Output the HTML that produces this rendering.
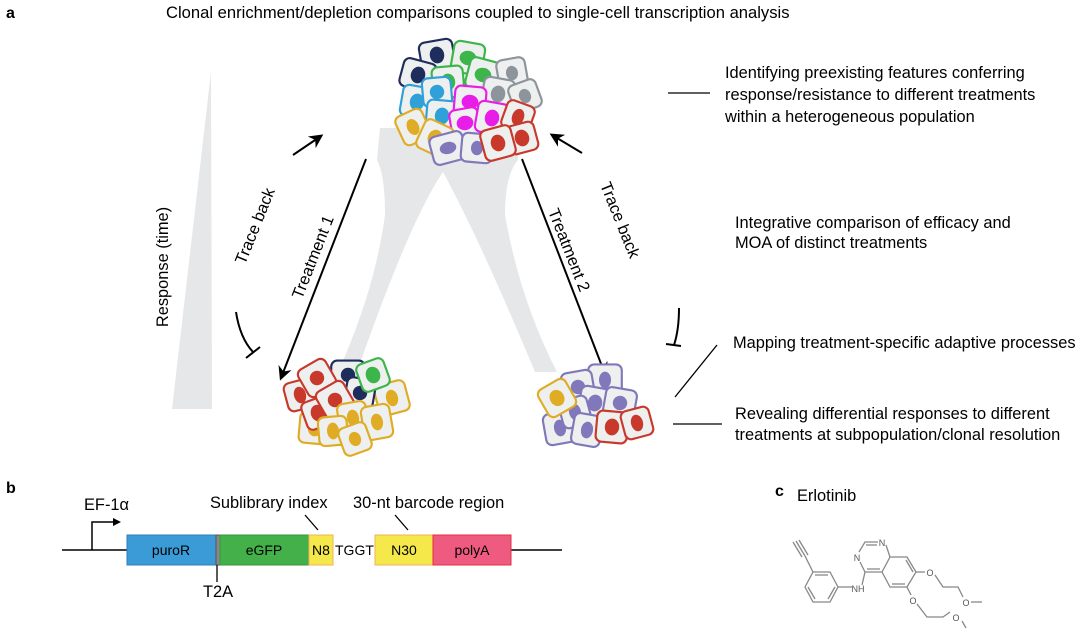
<!DOCTYPE html>
<html><head><meta charset="utf-8"><style>
html,body{margin:0;padding:0;background:#fff;}
svg{display:block;font-family:"Liberation Sans",Arial,sans-serif;}
</style></head><body>
<svg width="1080" height="636" viewBox="0 0 1080 636" xmlns="http://www.w3.org/2000/svg">
<defs>
<marker id="ah" viewBox="0 0 10 10" refX="8" refY="5" markerWidth="7" markerHeight="7" orient="auto-start-reverse"><path d="M0,0 L10,5 L0,10 L3,5 z" fill="#000"/></marker>
</defs>
<text x="6" y="18" font-size="16" font-weight="bold">a</text>
<text x="166" y="18" font-size="16.6">Clonal enrichment/depletion comparisons coupled to single-cell transcription analysis</text>

<polygon points="211,72 212,409 172,409" fill="#e6e7e8"/>
<text transform="translate(168,267) rotate(-90)" font-size="16.4" text-anchor="middle">Response (time)</text>

<path d="M380,128 L517,128 L518,160 Q505,175 505,215 Q520,300 557,372 L535,372 Q480,240 443,172 Q410,220 357,372 L338,372 Q375,290 385,215 Q385,175 377,160 Z" fill="#e6e7e8"/>

<line x1="366" y1="159" x2="281" y2="378" stroke="#000" stroke-width="2" marker-end="url(#ah)"/>
<line x1="522" y1="159" x2="605" y2="374" stroke="#000" stroke-width="2" marker-end="url(#ah)"/>
<text transform="translate(318,259) rotate(-68.5)" font-size="16.4" text-anchor="middle">Treatment 1</text>
<text transform="translate(564,252) rotate(68.5)" font-size="16.4" text-anchor="middle">Treatment 2</text>
<text transform="translate(260,228) rotate(-68)" font-size="16.4" text-anchor="middle">Trace back</text>
<text transform="translate(615,222) rotate(68)" font-size="16.4" text-anchor="middle">Trace back</text>
<line x1="293" y1="155" x2="321" y2="136" stroke="#000" stroke-width="2" marker-end="url(#ah)"/>
<line x1="582" y1="153" x2="552" y2="135" stroke="#000" stroke-width="2" marker-end="url(#ah)"/>
<path d="M236,312 Q240,338 253,352" fill="none" stroke="#000" stroke-width="2"/>
<line x1="246" y1="358" x2="260" y2="347" stroke="#000" stroke-width="2"/>
<path d="M679,308 Q679,330 674,345" fill="none" stroke="#000" stroke-width="2"/>
<line x1="666" y1="344" x2="681" y2="346" stroke="#000" stroke-width="2"/>

<line x1="668" y1="93" x2="710" y2="93" stroke="#000" stroke-width="1.3"/>
<text font-size="16.4"><tspan x="725" y="78">Identifying preexisting features conferring</tspan><tspan x="725" y="100">response/resistance to different treatments</tspan><tspan x="725" y="122">within a heterogeneous population</tspan></text>
<text font-size="16.4"><tspan x="735" y="228">Integrative comparison of efficacy and</tspan><tspan x="735" y="248">MOA of distinct treatments</tspan></text>
<text x="733" y="348" font-size="16.4">Mapping treatment-specific adaptive processes</text>
<line x1="675" y1="397" x2="717" y2="345" stroke="#000" stroke-width="1.3"/>
<line x1="673" y1="424" x2="722" y2="424" stroke="#000" stroke-width="1.3"/>
<text font-size="16.4"><tspan x="735" y="419">Revealing differential responses to different</tspan><tspan x="735" y="440">treatments at subpopulation/clonal resolution</tspan></text>

<g stroke-width="1.8" fill="#eef0ef">
<g transform="translate(437,55) rotate(-10) scale(1.2)"><rect x="-14" y="-12" width="28" height="24" rx="5" stroke="#1f2d5c"/><ellipse rx="6" ry="7" fill="#1f2d5c" stroke="none"/></g>
<g transform="translate(418,75) rotate(15) scale(1.2)"><rect x="-14" y="-12" width="28" height="24" rx="5" stroke="#1f2d5c"/><ellipse rx="6" ry="7" fill="#1f2d5c" stroke="none"/></g>
<g transform="translate(468,58) rotate(10) scale(1.2)"><rect x="-13" y="-13" width="26" height="26" rx="5" stroke="#3cb54a"/><ellipse rx="7" ry="6" fill="#3cb54a" stroke="none"/></g>
<g transform="translate(448,82) rotate(-5) scale(1.2)"><rect x="-13" y="-13" width="26" height="26" rx="5" stroke="#3cb54a"/><ellipse rx="6" ry="7" fill="#3cb54a" stroke="none"/></g>
<g transform="translate(483,75) rotate(15) scale(1.2)"><rect x="-13" y="-13" width="26" height="26" rx="5" stroke="#3cb54a"/><ellipse rx="7" ry="6" fill="#3cb54a" stroke="none"/></g>
<g transform="translate(512,73) rotate(-10) scale(1.2)"><rect x="-12" y="-12" width="24" height="24" rx="5" stroke="#8e949b"/><ellipse rx="5" ry="6" fill="#8e949b" stroke="none"/></g>
<g transform="translate(498,94) rotate(10) scale(1.2)"><rect x="-13" y="-13" width="26" height="26" rx="5" stroke="#8e949b"/><ellipse rx="6" ry="7" fill="#8e949b" stroke="none"/></g>
<g transform="translate(525,96) rotate(-20) scale(1.2)"><rect x="-12" y="-12" width="24" height="24" rx="5" stroke="#8e949b"/><ellipse rx="5" ry="6" fill="#8e949b" stroke="none"/></g>
<g transform="translate(417,102) rotate(10) scale(1.2)"><rect x="-13" y="-13" width="26" height="26" rx="5" stroke="#2fa0d8"/><ellipse rx="6" ry="7" fill="#2fa0d8" stroke="none"/></g>
<g transform="translate(437,92) rotate(-5) scale(1.2)"><rect x="-12" y="-12" width="24" height="24" rx="5" stroke="#2fa0d8"/><ellipse rx="6" ry="6" fill="#2fa0d8" stroke="none"/></g>
<g transform="translate(442,116) rotate(5) scale(1.2)"><rect x="-13" y="-13" width="26" height="26" rx="5" stroke="#2fa0d8"/><ellipse rx="6" ry="7" fill="#2fa0d8" stroke="none"/></g>
<g transform="translate(470,102) rotate(5) scale(1.2)"><rect x="-13" y="-13" width="26" height="26" rx="5" stroke="#e81ee8"/><ellipse rx="7" ry="6" fill="#e81ee8" stroke="none"/></g>
<g transform="translate(465,123) rotate(-10) scale(1.2)"><rect x="-12" y="-12" width="24" height="24" rx="5" stroke="#e81ee8"/><ellipse rx="7" ry="6" fill="#e81ee8" stroke="none"/></g>
<g transform="translate(492,118) rotate(10) scale(1.2)"><rect x="-13" y="-13" width="26" height="26" rx="5" stroke="#e81ee8"/><ellipse rx="6" ry="7" fill="#e81ee8" stroke="none"/></g>
<g transform="translate(413,127) rotate(-25) scale(1.2)"><rect x="-12" y="-13" width="24" height="26" rx="5" stroke="#e0ac25"/><ellipse rx="5" ry="7" fill="#e0ac25" stroke="none"/></g>
<g transform="translate(435,138) rotate(25) scale(1.2)"><rect x="-13" y="-13" width="26" height="26" rx="5" stroke="#e0ac25"/><ellipse rx="6" ry="7" fill="#e0ac25" stroke="none"/></g>
<g transform="translate(518,117) rotate(20) scale(1.2)"><rect x="-12" y="-12" width="24" height="24" rx="5" stroke="#c8392b"/><ellipse rx="5" ry="7" fill="#c8392b" stroke="none"/></g>
<g transform="translate(522,138) rotate(-15) scale(1.2)"><rect x="-12" y="-12" width="24" height="24" rx="5" stroke="#c8392b"/><ellipse rx="6" ry="7" fill="#c8392b" stroke="none"/></g>
<g transform="translate(448,148) rotate(-15) scale(1.2)"><rect x="-14" y="-12" width="28" height="24" rx="5" stroke="#8178bb"/><ellipse rx="7" ry="5" fill="#8178bb" stroke="none"/></g>
<g transform="translate(477,148) rotate(5) scale(1.2)"><rect x="-13" y="-12" width="26" height="24" rx="5" stroke="#8178bb"/><ellipse rx="5" ry="6" fill="#8178bb" stroke="none"/></g>
<g transform="translate(498,143) rotate(-15) scale(1.2)"><rect x="-13" y="-13" width="26" height="26" rx="5" stroke="#c8392b"/><ellipse rx="6" ry="7" fill="#c8392b" stroke="none"/></g>

<g transform="translate(315,428) rotate(5) scale(1.2)"><rect x="-13" y="-13" width="26" height="26" rx="5" stroke="#e0ac25"/><ellipse rx="6" ry="7" fill="#e0ac25" stroke="none"/></g>
<g transform="translate(392,398) rotate(-15) scale(1.2)"><rect x="-13" y="-13" width="26" height="26" rx="5" stroke="#e0ac25"/><ellipse rx="5" ry="7" fill="#e0ac25" stroke="none"/></g>
<g transform="translate(348,375) rotate(0) scale(1.2)"><rect x="-14" y="-12" width="28" height="24" rx="5" stroke="#1f2d5c"/><ellipse rx="6" ry="6" fill="#1f2d5c" stroke="none"/></g>
<g transform="translate(360,393) rotate(10) scale(1.2)"><rect x="-12" y="-12" width="24" height="24" rx="5" stroke="#1f2d5c"/><ellipse rx="6" ry="6" fill="#1f2d5c" stroke="none"/></g>
<g transform="translate(373,375) rotate(-20) scale(1.2)"><rect x="-12" y="-12" width="24" height="24" rx="5" stroke="#3cb54a"/><ellipse rx="6" ry="7" fill="#3cb54a" stroke="none"/></g>
<g transform="translate(300,395) rotate(-15) scale(1.2)"><rect x="-12" y="-12" width="24" height="24" rx="5" stroke="#c8392b"/><ellipse rx="5" ry="7" fill="#c8392b" stroke="none"/></g>
<g transform="translate(317,378) rotate(-30) scale(1.2)"><rect x="-13" y="-13" width="26" height="26" rx="5" stroke="#c8392b"/><ellipse rx="6" ry="6" fill="#c8392b" stroke="none"/></g>
<g transform="translate(318,413) rotate(-20) scale(1.2)"><rect x="-12" y="-12" width="24" height="24" rx="5" stroke="#c8392b"/><ellipse rx="6" ry="7" fill="#c8392b" stroke="none"/></g>
<g transform="translate(335,400) rotate(-30) scale(1.2)"><rect x="-13" y="-13" width="26" height="26" rx="5" stroke="#c8392b"/><ellipse rx="6" ry="6" fill="#c8392b" stroke="none"/></g>
<g transform="translate(353,418) rotate(-10) scale(1.2)"><rect x="-12" y="-13" width="24" height="26" rx="5" stroke="#e0ac25"/><ellipse rx="5" ry="7" fill="#e0ac25" stroke="none"/></g>
<g transform="translate(377,422) rotate(-10) scale(1.2)"><rect x="-12" y="-14" width="24" height="28" rx="5" stroke="#e0ac25"/><ellipse rx="5" ry="7" fill="#e0ac25" stroke="none"/></g>
<g transform="translate(333,431) rotate(-5) scale(1.2)"><rect x="-12" y="-12" width="24" height="24" rx="5" stroke="#e0ac25"/><ellipse rx="5" ry="7" fill="#e0ac25" stroke="none"/></g>
<g transform="translate(355,439) rotate(-20) scale(1.2)"><rect x="-12" y="-12" width="24" height="24" rx="5" stroke="#e0ac25"/><ellipse rx="5" ry="6" fill="#e0ac25" stroke="none"/></g>

<g transform="translate(605,380) rotate(0) scale(1.2)"><rect x="-14" y="-13" width="28" height="26" rx="5" stroke="#8178bb"/><ellipse rx="5" ry="7" fill="#8178bb" stroke="none"/></g>
<g transform="translate(578,387) rotate(-10) scale(1.2)"><rect x="-13" y="-13" width="26" height="26" rx="5" stroke="#8178bb"/><ellipse rx="6" ry="6" fill="#8178bb" stroke="none"/></g>
<g transform="translate(560,428) rotate(-10) scale(1.2)"><rect x="-13" y="-13" width="26" height="26" rx="5" stroke="#8178bb"/><ellipse rx="5" ry="7" fill="#8178bb" stroke="none"/></g>
<g transform="translate(595,403) rotate(10) scale(1.2)"><rect x="-13" y="-13" width="26" height="26" rx="5" stroke="#8178bb"/><ellipse rx="6" ry="7" fill="#8178bb" stroke="none"/></g>
<g transform="translate(620,403) rotate(10) scale(1.2)"><rect x="-13" y="-12" width="26" height="24" rx="5" stroke="#8178bb"/><ellipse rx="6" ry="6" fill="#8178bb" stroke="none"/></g>
<g transform="translate(575,412) rotate(-15) scale(1.2)"><rect x="-12" y="-12" width="24" height="24" rx="5" stroke="#8178bb"/><ellipse rx="5" ry="7" fill="#8178bb" stroke="none"/></g>
<g transform="translate(587,430) rotate(10) scale(1.2)"><rect x="-12" y="-13" width="24" height="26" rx="5" stroke="#8178bb"/><ellipse rx="5" ry="7" fill="#8178bb" stroke="none"/></g>
<g transform="translate(557,398) rotate(-30) scale(1.2)"><rect x="-13" y="-13" width="26" height="26" rx="5" stroke="#e0ac25"/><ellipse rx="6" ry="7" fill="#e0ac25" stroke="none"/></g>
<g transform="translate(612,427) rotate(5) scale(1.2)"><rect x="-13" y="-13" width="26" height="26" rx="5" stroke="#c8392b"/><ellipse rx="6" ry="7" fill="#c8392b" stroke="none"/></g>
<g transform="translate(637,423) rotate(-15) scale(1.2)"><rect x="-12" y="-12" width="24" height="24" rx="5" stroke="#c8392b"/><ellipse rx="5" ry="7" fill="#c8392b" stroke="none"/></g>
</g>

<text x="6" y="493" font-size="16" font-weight="bold">b</text>
<line x1="62" y1="550" x2="127" y2="550" stroke="#000" stroke-width="1.5"/>
<line x1="511" y1="550" x2="562" y2="550" stroke="#000" stroke-width="1.5"/>
<polyline points="92,550 92,522 115,522" fill="none" stroke="#000" stroke-width="1.5"/>
<polygon points="113,518 121,522 113,526" fill="#000"/>
<text x="84" y="510" font-size="16.4">EF-1α</text>
<rect x="127" y="535" width="89" height="30" fill="#3a9bd6" stroke="#2e7fbf"/>
<text x="171" y="555" font-size="14" text-anchor="middle">puroR</text>
<rect x="216" y="535" width="4" height="30" fill="#888" stroke="#555"/>
<line x1="217" y1="565" x2="217" y2="582" stroke="#000" stroke-width="1.3"/>
<text x="203" y="597" font-size="16.4">T2A</text>
<rect x="220" y="535" width="89" height="30" fill="#44b04a" stroke="#36963c"/>
<text x="264" y="555" font-size="14" text-anchor="middle">eGFP</text>
<rect x="309" y="535" width="24" height="30" fill="#f4e84a" stroke="#f0b060"/>
<text x="321" y="555" font-size="14" text-anchor="middle">N8</text>
<text x="335" y="555" font-size="14">TGGT</text>
<rect x="375" y="535" width="58" height="30" fill="#f4e84a" stroke="#f0b060"/>
<text x="404" y="555" font-size="14" text-anchor="middle">N30</text>
<rect x="433" y="535" width="78" height="30" fill="#ef5a80" stroke="#e03040"/>
<text x="472" y="555" font-size="14" text-anchor="middle">polyA</text>
<text x="210" y="508" font-size="16.4">Sublibrary index</text>
<line x1="305" y1="515" x2="318" y2="530" stroke="#000" stroke-width="1.3"/>
<text x="353" y="508" font-size="16.4">30-nt barcode region</text>
<line x1="395" y1="515" x2="408" y2="530" stroke="#000" stroke-width="1.3"/>

<text x="775" y="496" font-size="16" font-weight="bold">c</text>
<text x="797" y="501" font-size="16.4">Erlotinib</text>
<g stroke="#888" stroke-width="1.3" fill="none">
<polygon points="838,587 830,572 813,572 805,587 813,602 830,602"/>
<line x1="815" y1="575" x2="828" y2="575"/><line x1="808" y1="587" x2="815" y2="599"/><line x1="828" y1="599" x2="835" y2="587"/>
<line x1="813" y1="572" x2="805" y2="556"/>
<line x1="805" y1="556" x2="796" y2="541"/><line x1="802" y1="557" x2="793" y2="542"/><line x1="808" y1="555" x2="799" y2="540"/>
<line x1="838" y1="587" x2="852" y2="587"/>
<line x1="862" y1="585" x2="865" y2="572"/>
<polyline points="859,552 865,542 878,542"/>
<line x1="866" y1="545" x2="877" y2="545"/>
<polyline points="886,545 890,557 882,572 865,572 860,562"/>
<line x1="867" y1="569" x2="880" y2="569"/>
<polyline points="890,557 907,557 916,572 907,587 890,587 882,572"/>
<line x1="906" y1="560" x2="913" y2="572"/><line x1="892" y1="584" x2="905" y2="584"/>
<line x1="916" y1="572" x2="925" y2="572"/>
<polyline points="935,575 943,587 958,587 963,597"/>
<line x1="971" y1="602" x2="982" y2="602"/>
<line x1="907" y1="587" x2="911" y2="595"/>
<polyline points="917,604 927,617 943,617 950,612"/>
<line x1="962" y1="621" x2="966" y2="628"/>
</g>
<g font-size="9" fill="#555" text-anchor="middle">
<text x="882" y="546">N</text><text x="857" y="561">N</text><text x="858" y="592">NH</text>
<text x="930" y="576">O</text><text x="913" y="604">O</text><text x="966" y="606">O</text><text x="956" y="621">O</text>
</g>
</svg>
</body></html>
